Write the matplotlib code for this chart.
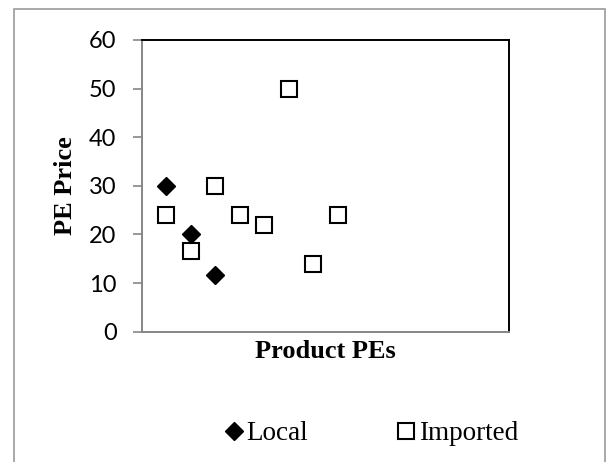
import matplotlib
matplotlib.use('Agg')
import matplotlib.pyplot as plt
from matplotlib.patches import Rectangle

# 데이터
local_x = [1, 2, 3]
local_y = [30, 20, 11.7]
imported_x = [1, 2, 3, 4, 5, 6, 7, 8]
imported_y = [24, 16.5, 30, 24, 22, 50, 14, 24]
y_ticks = [0, 10, 20, 30, 40, 50, 60]

fig = plt.figure(figsize=(6.06, 4.62), dpi=100)
ax = fig.add_axes([142 / 606, 1 - 331.7 / 462, 367 / 606, 291.7 / 462])

# 포인트 그리기
ax.plot(local_x, local_y, linestyle='none', marker='D', markersize=9,
        color='black', markeredgecolor='black', markeredgewidth=1, label='Local')
ax.plot(imported_x, imported_y, linestyle='none', marker='s', markersize=12,
        markerfacecolor='white', markeredgecolor='black', markeredgewidth=1.5,
        label='Imported')

ax.set_xlim(0, 15)
ax.set_ylim(0, 60)
ax.set_xticks([])
ax.set_yticks(y_ticks)
ax.set_yticklabels([str(t) for t in y_ticks], fontfamily='Lato', fontsize=17)
ax.tick_params(axis='y', direction='out', length=6.3, width=1.2, color='#868686', pad=12)

# 축 테두리
for side in ['left', 'bottom']:
    ax.spines[side].set_color('#868686')
    ax.spines[side].set_linewidth(1.4)
for side in ['top', 'right']:
    ax.spines[side].set_color('black')
    ax.spines[side].set_linewidth(1.4)

ax.set_ylabel('PE Price', fontfamily='Liberation Serif', fontweight='bold', fontsize=19)
ax.yaxis.set_label_coords(-0.177, 0.5)
ax.set_xlabel('Product PEs', fontfamily='Liberation Serif', fontweight='bold', fontsize=19,
              va='top')
ax.xaxis.set_label_coords(0.5, -0.03)

# 범례
fig.legend(loc='center', bbox_to_anchor=(371 / 606, 1 - 434 / 462), ncol=2, frameon=False,
           prop={'family': 'Liberation Serif', 'size': 19.5},
           handlelength=0.7, handletextpad=0.1, columnspacing=3.3, borderpad=0)

# 그림 외곽선
fig.patches.append(Rectangle((13.5 / 606, -0.1), 591 / 606, 1.1 - 9 / 462,
                             transform=fig.transFigure, fill=False,
                             edgecolor='#9a9a9a', linewidth=1.2))

fig.savefig('out.png', dpi=100)
